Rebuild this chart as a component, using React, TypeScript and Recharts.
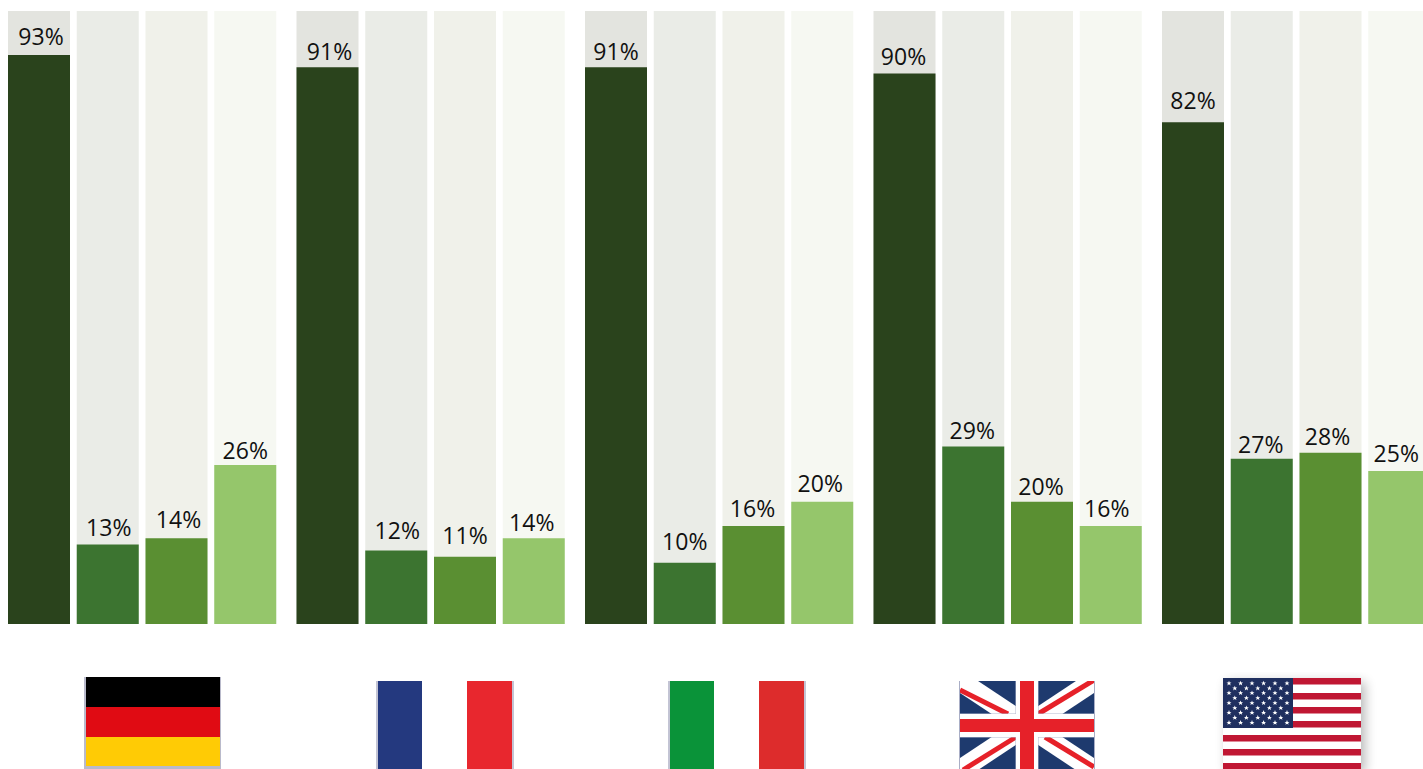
import React from 'react'
import { BarChart, Bar, XAxis, YAxis, LabelList } from 'recharts'

const countries = ['Germany', 'France', 'Italy', 'UK', 'USA']
const seriesA = [93, 91, 91, 90, 82]
const seriesB = [13, 12, 10, 29, 27]
const seriesC = [14, 11, 16, 20, 28]
const seriesD = [26, 14, 20, 16, 25]

const chartData = countries.map((name, i) => ({
  name,
  a: seriesA[i],
  b: seriesB[i],
  c: seriesC[i],
  d: seriesD[i],
}))

// the labels in the original are hand placed, not a fixed distance above the bar
const SERIES = [
  { key: 'a', fill: '#2a431c', track: '#e3e4df', dx: [2, 2, 0, -1, 0], dy: [-4, -1, -1, -2, -7] },
  { key: 'b', fill: '#3c7430', track: '#eaece7', dx: [1, 1, 0, -1, -1], dy: [-2, -6, -7, -2, 0] },
  { key: 'c', fill: '#5a8f32', track: '#f0f1ea', dx: [2, 0, -1, -1, -3], dy: [-4, -7, -3, -1, -2] },
  { key: 'd', fill: '#95c66b', track: '#f6f8f2', dx: [0, -2, -2, -4, -3], dy: [0, -1, -4, -3, -3] },
]

const EDGE = '#c3c4d4'

const PercentLabel = ({ x, y, width, value, index, dx, dy }: any) => (
  <text
    x={x + width / 2 + dx[index]}
    y={y - 6 + dy[index]}
    textAnchor="middle"
    fontFamily='"Open Sans", sans-serif'
    fontSize={23}
    fill="#111111"
  >
    {`${value}%`}
  </text>
)

const Germany = () => (
  <g transform="translate(84 677)">
    <rect x={0} y={0} width={137} height={92} fill="#b9bacb" />
    <rect x={2} y={0} width={134} height={30} fill="#000000" />
    <rect x={2} y={30} width={134} height={30} fill="#e00b13" />
    <rect x={2} y={60} width={134} height={29} fill="#ffcb05" />
  </g>
)

const Tricolour = ({ x, left, right }: { x: number; left: string; right: string }) => (
  <g transform={`translate(${x} 681)`}>
    <rect x={-2} y={0} width={2} height={88} fill={EDGE} />
    <rect x={134} y={0} width={2} height={88} fill={EDGE} />
    <rect x={0} y={0} width={44} height={88} fill={left} />
    <rect x={89} y={0} width={45} height={88} fill={right} />
  </g>
)

const UnionJack = () => (
  <g transform="translate(960 681)">
    <defs>
      <clipPath id="uk-clip">
        <rect x={0} y={0} width={134} height={88} />
      </clipPath>
    </defs>
    <rect x={-1} y={0} width={136} height={88} fill="#a9aec6" />
    <g clipPath="url(#uk-clip)">
      <rect x={0} y={0} width={134} height={89} fill="#1e3a6e" />
      <line x1={0} y1={0} x2={134} y2={89} stroke="#ffffff" strokeWidth={20} />
      <line x1={134} y1={0} x2={0} y2={89} stroke="#ffffff" strokeWidth={20} />
      <line x1={0} y1={9} x2={48} y2={33} stroke="#e62129" strokeWidth={5} />
      <line x1={78} y1={33} x2={134} y2={-1} stroke="#e62129" strokeWidth={5} />
      <line x1={3} y1={89} x2={56} y2={56} stroke="#e62129" strokeWidth={5} />
      <line x1={85} y1={56} x2={134} y2={86} stroke="#e62129" strokeWidth={5} />
      <rect x={0} y={32.5} width={134} height={24} fill="#b4b9cf" />
      <rect x={55.5} y={0} width={23} height={89} fill="#b4b9cf" />
      <rect x={0} y={33} width={134} height={23} fill="#ffffff" />
      <rect x={56} y={0} width={22} height={89} fill="#ffffff" />
      <rect x={0} y={38} width={134} height={13} fill="#e62129" />
      <rect x={60} y={0} width={14} height={89} fill="#e62129" />
    </g>
  </g>
)

const STAR = '0,-2.6 0.7,-0.8 2.5,-0.8 1.1,0.3 1.6,2.1 0,1 -1.6,2.1 -1.1,0.3 -2.5,-0.8 -0.7,-0.8'
const starRows = [5.3, 10.3, 15, 20, 25, 30, 34.7, 39.7, 44.7]
const starCols = [6, 17.6, 29, 40.6, 52, 64]

const UsFlag = () => (
  <g transform="translate(1223 678)">
    <defs>
      <filter id="us-shadow" x="-10%" y="-10%" width="125%" height="125%">
        <feGaussianBlur stdDeviation="6" />
      </filter>
    </defs>
    <rect x={4} y={4} width={138} height={91} fill="#000000" opacity={0.28} filter="url(#us-shadow)" />
    <rect x={0} y={0} width={138} height={91} fill="#ffffff" />
    {[0, 15, 29, 43, 57, 71, 85].map((y) => (
      <rect key={y} x={0} y={y} width={138} height={6.5} fill="#c01733" />
    ))}
    <rect x={0} y={0} width={70} height={50} fill="#1f2f5f" />
    {starRows.map((y, r) =>
      starCols
        .filter((_, c) => r % 2 === 0 || c < 5)
        .map((x) => (
          <polygon
            key={`${r}-${x}`}
            points={STAR}
            fill="#ffffff"
            transform={`translate(${r % 2 === 0 ? x : x + 5.8} ${y})`}
          />
        )),
    )}
  </g>
)

// the flags sit at their own spots under the groups, so each one is placed by hand
// the extra 2px undoes the chart's -2 left offset
const FlagTick = ({ index }: any) => {
  let flag = <UsFlag />
  if (index === 0) flag = <Germany />
  if (index === 1) flag = <Tricolour x={378} left="#24397f" right="#e8272e" />
  if (index === 2) flag = <Tricolour x={670} left="#0a9339" right="#dd2c2c" />
  if (index === 3) flag = <UnionJack />
  return <g transform="translate(2 0)">{flag}</g>
}

const App = () => {
  return (
    <div style={{ position: 'absolute', left: 0, top: 0, width: 1423, height: 769, overflow: 'hidden', background: '#fff' }}>
      <div style={{ position: 'absolute', left: -2, top: 0 }}>
        <BarChart
          width={1442.5}
          height={769}
          data={chartData}
          margin={{ top: 11, right: 0, bottom: 0, left: 0 }}
          barSize={62}
          barGap={6.75}
        >
          <XAxis
            dataKey="name"
            height={145}
            axisLine={false}
            tickLine={false}
            interval={0}
            tick={(props: any) => <FlagTick {...props} />}
          />
          <YAxis hide domain={[0, 100.2]} />
          {SERIES.map((s) => (
            <Bar key={s.key} dataKey={s.key} fill={s.fill} background={{ fill: s.track }} isAnimationActive={false}>
              <LabelList
                dataKey={s.key}
                content={(props: any) => <PercentLabel {...props} dx={s.dx} dy={s.dy} />}
              />
            </Bar>
          ))}
        </BarChart>
      </div>
    </div>
  )
}

export default App
